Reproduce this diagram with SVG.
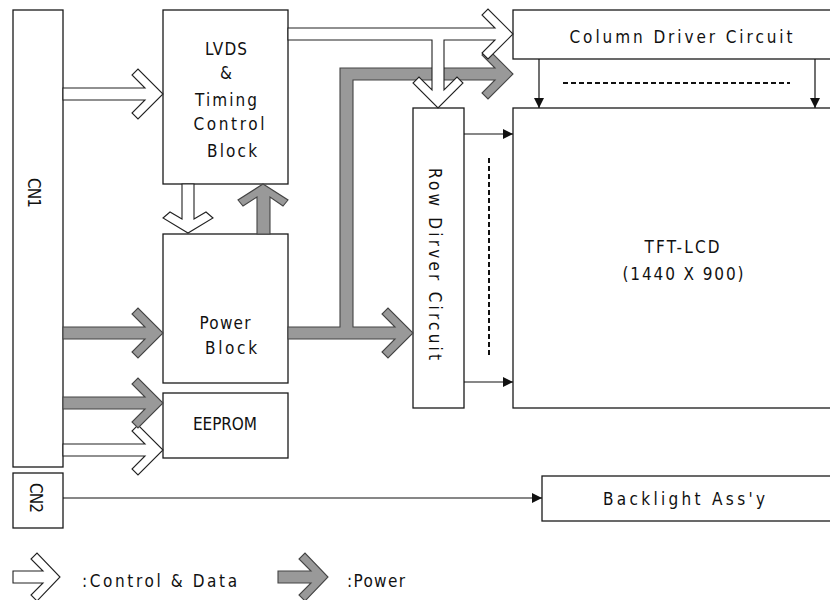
<svg xmlns="http://www.w3.org/2000/svg" width="830" height="600" viewBox="0 0 830 600">
<defs>
<style>
.box{fill:#fff;stroke:#1a1a1a;stroke-width:1.3}
.t{font-family:'Liberation Sans Narrow','DejaVu Sans Condensed','Liberation Sans',sans-serif;font-size:17px;fill:#111;text-anchor:middle}
.tl{font-family:'Liberation Sans Narrow','DejaVu Sans Condensed','Liberation Sans',sans-serif;font-size:17px;fill:#111}
.ctl{fill:#fff;stroke:#222;stroke-width:1.1;stroke-linejoin:miter}
.pwr{fill:#999;stroke:#444;stroke-width:1.1;stroke-linejoin:miter}
.ln{fill:none;stroke:#111;stroke-width:1.2}
.dash{fill:none;stroke:#111;stroke-width:2;stroke-dasharray:5 3}
</style>
<marker id="ah" viewBox="0 0 10 10" refX="10" refY="5" markerWidth="10" markerHeight="10" markerUnits="userSpaceOnUse" orient="auto">
<path d="M0,0 L10,5 L0,10 Z" fill="#111"/>
</marker>
</defs>

<g id="CN1"><rect class="box" x="13" y="10" width="50" height="457"/>
<text class="tl" transform="translate(28,193) rotate(90)" text-anchor="middle" textLength="30" lengthAdjust="spacing">CN1</text></g>
<g id="CN2"><rect class="box" x="13" y="473" width="50" height="55"/>
<text class="tl" transform="translate(30,498) rotate(90)" text-anchor="middle" textLength="30" lengthAdjust="spacing">CN2</text></g>

<g id="LVDS"><rect class="box" x="163" y="10" width="125" height="174"/>
<text class="t" x="226" y="55" textLength="42" lengthAdjust="spacing">LVDS</text>
<text class="t" x="226" y="79">&amp;</text>
<text class="t" x="226" y="106" textLength="62" lengthAdjust="spacing">Timing</text>
<text class="t" x="229" y="130" textLength="71" lengthAdjust="spacing">Control</text>
<text class="t" x="232" y="157" textLength="50" lengthAdjust="spacing">Block</text></g>

<g id="Power"><rect class="box" x="163" y="234" width="125" height="149"/>
<text class="t" x="225" y="329" textLength="51" lengthAdjust="spacing">Power</text>
<text class="t" x="231" y="354" textLength="52" lengthAdjust="spacing">Block</text></g>

<g id="EEPROM"><rect class="box" x="163" y="393" width="125" height="65"/>
<text class="t" x="225" y="430" textLength="64" lengthAdjust="spacing">EEPROM</text></g>

<g id="ColumnDriver"><rect class="box" x="513" y="10" width="330" height="49"/>
<text class="t" x="681" y="43" textLength="223" lengthAdjust="spacing">Column Driver Circuit</text></g>

<g id="RowDriver"><rect class="box" x="413" y="108" width="51" height="300"/>
<text class="tl" transform="translate(429,264) rotate(90)" text-anchor="middle" textLength="192" lengthAdjust="spacing">Row Dirver Circuit</text></g>

<g id="TFTLCD"><rect class="box" x="513" y="108" width="330" height="300"/>
<text class="t" x="682" y="253" textLength="75" lengthAdjust="spacing">TFT-LCD</text>
<text class="t" x="683" y="280" textLength="121" lengthAdjust="spacing">(1440 X 900)</text></g>

<g id="Backlight"><rect class="box" x="542" y="476" width="300" height="45"/>
<text class="t" x="684" y="505" textLength="162" lengthAdjust="spacing">Backlight Ass'y</text></g>

<g id="connectors">
<!-- power network -->
<path class="pwr" d="M288,327 H340 V68 H495 L482,55 L488,49 L513,74 L488,99 L482,93 L495,80 H353 V327 H395 L382,314 L388,308 L413,333 L388,358 L382,352 L395,339 H288 Z"/>
<!-- control LVDS -> Column + Row -->
<path class="ctl" d="M288,28 H495 L482,15 L488,9 L513,34 L488,59 L482,53 L495,40 H444 V90 L457,77 L463,83 L438,108 L413,83 L419,77 L432,90 V40 H288 Z"/>
<!-- CN1 -> LVDS -->
<path class="ctl" d="M63,88 H145 L132,75 L138,69 L163,94 L138,119 L132,113 L145,100 H63 Z"/>
<!-- CN1 -> EEPROM control -->
<path class="ctl" d="M63,444 H145 L132,431 L138,425 L163,450 L138,475 L132,469 L145,456 H63 Z"/>
<!-- CN1 -> Power -->
<path class="pwr" d="M63,327 H145 L132,314 L138,308 L163,333 L138,358 L132,352 L145,339 H63 Z"/>
<!-- CN1 -> EEPROM power -->
<path class="pwr" d="M63,397 H145 L132,384 L138,378 L163,403 L138,428 L132,422 L145,409 H63 Z"/>
<!-- LVDS -> Power (down) -->
<path class="ctl" d="M182,184 V219 L170,212 L163,218 L188,233 L213,218 L206,212 L194,219 V184 Z"/>
<!-- Power -> LVDS (up) -->
<path class="pwr" d="M257,234 V197 L243,206 L238,200 L263,184 L288,200 L283,206 L270,197 V234 Z"/>
<!-- thin arrows -->
<line class="ln" x1="539" y1="59" x2="539" y2="108" marker-end="url(#ah)"/>
<line class="ln" x1="815" y1="59" x2="815" y2="108" marker-end="url(#ah)"/>
<line class="ln" x1="464" y1="134" x2="513" y2="134" marker-end="url(#ah)"/>
<line class="ln" x1="464" y1="382" x2="513" y2="382" marker-end="url(#ah)"/>
<line class="ln" x1="63" y1="498" x2="542" y2="498" marker-end="url(#ah)"/>
<line class="dash" x1="563" y1="83" x2="790" y2="83"/>
<line class="dash" x1="489" y1="158" x2="489" y2="358"/>
</g>

<g id="legend">
<path class="ctl" d="M13,571 H43 L31,559 L37,553 L60,577 L37,601 L31,595 L43,583 H13 Z"/>
<text class="tl" x="82" y="587" textLength="155" lengthAdjust="spacing">:Control &amp; Data</text>
<path class="pwr" d="M278,571 H311 L299,559 L305,553 L328,577 L305,601 L299,595 L311,583 H278 Z"/>
<text class="tl" x="347" y="587" textLength="58" lengthAdjust="spacing">:Power</text>
</g>
</svg>
